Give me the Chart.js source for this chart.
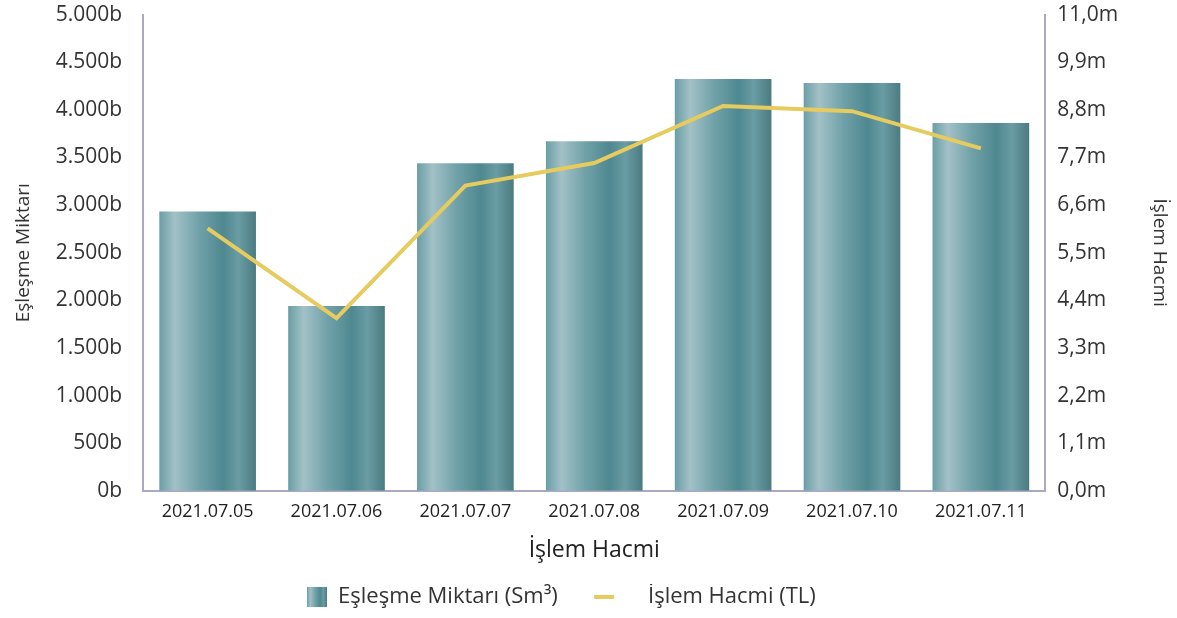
<!DOCTYPE html>
<html>
<head>
<meta charset="utf-8">
<script src="https://cdn.jsdelivr.net/npm/chart.js@4"></script>
<style>
    html, body { margin: 0; padding: 0; background: #fff; }
    #wrap { width: 1177px; height: 618px; }
</style>
</head>
<body>
<div id="wrap"><canvas id="chart"></canvas></div>
<script>
const dates = ['2021.07.05', '2021.07.06', '2021.07.07', '2021.07.08', '2021.07.09', '2021.07.10', '2021.07.11'];
// Eşleşme Miktarı, in bin Sm³
const matchedAmount = [2932, 1941, 3439, 3671, 4325, 4283, 3861];
// İşlem Hacmi, in million TL
const tradeVolume = [6.06, 3.99, 7.05, 7.57, 8.89, 8.77, 7.91];

const BAR_PCT = 0.75;
const lineColor = '#e6cb5e';
const axisColor = '#a9a9c6';
const sans = "'Open Sans', 'Noto Sans', sans-serif";
const tickFont = { family: sans, size: 21 };

function fillBarGradient(g) {
    g.addColorStop(0, '#6a9ea5');
    g.addColorStop(0.16, '#a2c1c7');
    g.addColorStop(0.40, '#72a2a9');
    g.addColorStop(0.66, '#4f8890');
    g.addColorStop(0.82, '#6a9ca3');
    g.addColorStop(1, '#4a7b81');
    return g;
}

// gradient per bar, across its width
function barColor(context) {
    const chart = context.chart;
    const xScale = chart.scales.x;
    if (!chart.chartArea || !xScale || context.dataIndex === undefined) return '#5f939a';
    const center = xScale.getPixelForValue(context.dataIndex);
    const width = (xScale.width / dates.length) * BAR_PCT;
    const g = chart.ctx.createLinearGradient(center - width / 2, 0, center + width / 2, 0);
    return fillBarGradient(g);
}

// small gradient square for the legend
const legendBox = document.createElement('canvas');
legendBox.width = 20;
legendBox.height = 20;
(function () {
    const c = legendBox.getContext('2d');
    c.fillStyle = fillBarGradient(c.createLinearGradient(0, 0, 20, 0));
    c.fillRect(0, 0, 20, 20);
})();

function formatThousands(v) {
    return String(Math.round(v)).replace(/\B(?=(\d{3})+(?!\d))/g, '.') + 'b';
}

new Chart(document.getElementById('chart'), {
    data: {
        labels: dates,
        datasets: [
            {
                type: 'line',
                label: '    İşlem Hacmi (TL)          ',
                data: tradeVolume,
                yAxisID: 'y1',
                borderColor: lineColor,
                backgroundColor: lineColor,
                borderWidth: 4,
                pointRadius: 0,
                tension: 0,
                order: 0
            },
            {
                type: 'bar',
                label: 'Eşleşme Miktarı (Sm³)      ',
                data: matchedAmount,
                yAxisID: 'y',
                backgroundColor: barColor,
                barPercentage: BAR_PCT,
                categoryPercentage: 1,
                order: 1
            }
        ]
    },
    options: {
        responsive: true,
        maintainAspectRatio: false,
        animation: false,
        layout: { padding: { top: 1, left: 4, right: 1, bottom: 0 } },
        plugins: {
            tooltip: { enabled: false },
            legend: {
                position: 'bottom',
                reverse: true,
                labels: {
                    usePointStyle: true,
                    pointStyleWidth: 20,
                    boxHeight: 20,
                    padding: 2,
                    color: '#333',
                    font: { family: sans, size: 22 },
                    generateLabels: (chart) => chart.data.datasets.map((ds, i) => ({
                        text: ds.label,
                        datasetIndex: i,
                        pointStyle: ds.type === 'bar' ? legendBox : 'line',
                        strokeStyle: lineColor,
                        fillStyle: lineColor,
                        lineWidth: 4,
                        fontColor: '#333'
                    }))
                }
            }
        },
        scales: {
            x: {
                grid: { display: false, drawTicks: false },
                border: { display: true, color: axisColor, width: 2 },
                ticks: { color: '#222', font: { family: sans, size: 18 }, padding: 10 },
                title: {
                    display: true,
                    text: 'İşlem Hacmi',
                    color: '#222',
                    font: { family: sans, size: 23 },
                    padding: { top: 4, bottom: 20 }
                }
            },
            y: {
                position: 'left',
                min: 0,
                max: 5000,
                // tick marks are hidden, their length only spaces the labels
                grid: { display: false, drawTicks: true, tickLength: 19 },
                border: { display: true, color: axisColor, width: 2 },
                ticks: {
                    stepSize: 500,
                    color: '#333',
                    font: tickFont,
                    padding: 2,
                    callback: (v) => formatThousands(v)
                },
                title: {
                    display: true,
                    text: 'Eşleşme Miktarı',
                    color: '#333',
                    font: { family: sans, size: 19 },
                    padding: { top: 8, bottom: 19 }
                }
            },
            y1: {
                position: 'right',
                min: 0,
                max: 11,
                grid: { display: false, drawTicks: true, tickLength: 10 },
                border: { display: true, color: axisColor, width: 2 },
                ticks: {
                    stepSize: 1.1,
                    color: '#333',
                    font: tickFont,
                    padding: 2,
                    callback: (v) => v.toFixed(1).replace('.', ',') + 'm'
                },
                title: {
                    display: true,
                    text: 'İşlem Hacmi',
                    color: '#333',
                    font: { family: sans, size: 19 },
                    padding: { top: 5, bottom: 28 }
                }
            }
        }
    }
});
</script>
</body>
</html>
